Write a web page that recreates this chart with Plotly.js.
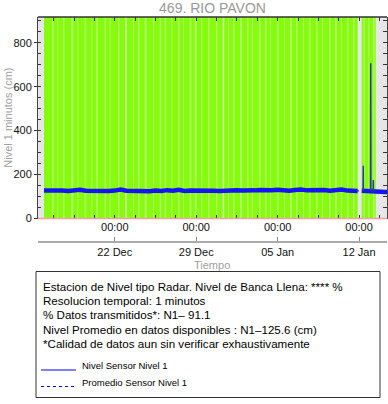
<!DOCTYPE html>
<html>
<head>
<meta charset="utf-8">
<script src="https://cdn.plot.ly/plotly-3.0.1.min.js"></script>
<style>html,body{margin:0;padding:0;background:#fff;}#chart{width:388px;height:404px;}</style>
</head>
<body>
<div id="chart"></div>
<script>
// ---------- data ----------
const stationTitle = '469. RIO PAVON';
const yRange = [0, 917];
const xRange = ['2023-12-15 09:36', '2024-01-14 09:36'];

const weekTicks = ['2023-12-22', '2023-12-29', '2024-01-05', '2024-01-12'];
const hourLabels = ['00:00', '00:00', '00:00', '00:00'];
const dateLabels = ['22 Dec', '29 Dec', '05 Jan', '12 Jan'];

// periods with transmitted data (green)
const coverageStart = ['2023-12-15 22:00', '2024-01-12 05:25'];
const coverageEnd   = ['2024-01-11 21:05', '2024-01-13 10:20'];

// short partial-data stripes inside the green periods
const stripeStart = ['2023-12-16 14:30','2023-12-17 01:24','2023-12-17 13:10','2023-12-18 06:20','2023-12-18 18:40',
  '2023-12-19 09:55','2023-12-19 23:36','2023-12-20 09:55','2023-12-21 03:10','2023-12-21 13:30','2023-12-22 06:36',
  '2023-12-22 21:40','2023-12-23 13:36','2023-12-23 23:55','2023-12-24 13:45','2023-12-25 06:50','2023-12-25 20:40',
  '2023-12-26 07:00','2023-12-26 20:40','2023-12-27 10:25','2023-12-27 20:45','2023-12-28 10:35','2023-12-28 20:55',
  '2023-12-29 10:30','2023-12-30 00:20','2023-12-30 16:50','2023-12-31 06:40','2023-12-31 17:40','2024-01-01 03:55',
  '2024-01-01 18:20','2024-01-02 08:50','2024-01-02 19:05','2024-01-03 09:30','2024-01-03 21:55','2024-01-04 08:15',
  '2024-01-04 22:40','2024-01-05 13:05','2024-01-06 01:30','2024-01-06 13:55','2024-01-07 04:20','2024-01-07 16:40',
  '2024-01-08 07:05','2024-01-08 19:30','2024-01-09 09:55','2024-01-09 22:15','2024-01-10 10:40','2024-01-10 23:05',
  '2024-01-11 11:25','2024-01-12 09:05','2024-01-12 19:00','2024-01-13 04:45'];
const stripeHours = [3,2,3,4,2, 3,2,3,3,2,3, 3,2,3,4,2,3, 3,2,3,2,3,4, 2,3,3,3,2,3, 4,3,2,3,3,2, 3,2,4,3,2,3, 3,2,3,4,2,3, 3,3,2,3];
const stripeTone  = [1,1,1,1,1, 1,1,1,1,1,1, 2,1,1,1,1,1, 1,1,1,1,1,1, 1,1,1,2,1,1, 1,1,1,1,1,1, 1,1,1,1,1,1, 1,1,1,1,1,1, 1,1,1,1];

// level series (cm)
const levelTime = ['2023-12-15 22:00','2023-12-16 12:00','2023-12-17 00:00','2023-12-17 12:00','2023-12-18 00:00',
  '2023-12-18 12:00','2023-12-19 00:00','2023-12-19 12:00','2023-12-20 00:00','2023-12-20 12:00','2023-12-21 00:00',
  '2023-12-21 12:00','2023-12-22 00:00','2023-12-22 12:00','2023-12-23 00:00','2023-12-23 12:00','2023-12-24 00:00',
  '2023-12-24 12:00','2023-12-25 00:00','2023-12-25 12:00','2023-12-26 00:00','2023-12-26 12:00','2023-12-27 00:00',
  '2023-12-27 12:00','2023-12-28 00:00','2023-12-28 12:00','2023-12-29 00:00','2023-12-29 12:00','2023-12-30 00:00',
  '2023-12-30 12:00','2023-12-31 00:00','2023-12-31 12:00','2024-01-01 00:00','2024-01-01 12:00','2024-01-02 00:00',
  '2024-01-02 12:00','2024-01-03 00:00','2024-01-03 12:00','2024-01-04 00:00','2024-01-04 12:00','2024-01-05 00:00',
  '2024-01-05 12:00','2024-01-06 00:00','2024-01-06 12:00','2024-01-07 00:00','2024-01-07 12:00','2024-01-08 00:00',
  '2024-01-08 12:00','2024-01-09 00:00','2024-01-09 12:00','2024-01-10 00:00','2024-01-10 12:00','2024-01-11 00:00',
  '2024-01-11 12:00','2024-01-11 21:00','2024-01-12 01:00','2024-01-12 05:30','2024-01-12 18:00','2024-01-13 06:00',
  '2024-01-13 18:00','2024-01-14 06:00','2024-01-14 12:00'];
const levelValue = [127,128,124,127,125, 126,131,126,125,129,126, 125,127,132,126,125,128, 126,124,127,125,129,126,
  131,125,127,128,126,130, 126,125,128,126,129,127, 125,128,130,127,129,131, 128,126,130,132,128,129,
  127,130,126,128,132,127, 126,125,null,126,125,128, 122,121,120];

// isolated spikes
const spikeTime  = ['2024-01-12 08:20','2024-01-12 08:40','2024-01-12 09:00',null,
                    '2024-01-12 23:40','2024-01-13 00:00','2024-01-13 00:20',null,
                    '2024-01-13 05:00','2024-01-13 05:20','2024-01-13 05:40'];
const spikeValue = [126,240,126,null, 126,707,126,null, 125,175,124];

const meanLevel = 125.6;

const infoLines = [
  'Estacion de Nivel tipo Radar. Nivel de Banca Llena: **** %',
  'Resolucion temporal: 1 minutos',
  '% Datos transmitidos*: N1\u2013 91.1',
  'Nivel Promedio en datos disponibles : N1\u2013125.6 (cm)',
  '*Calidad de datos aun sin verificar exhaustivamente'
];
const legendLabels = ['Nivel Sensor Nivel 1', 'Promedio Sensor Nivel 1'];

// ---------- figure ----------
const FONT = 'Liberation Sans, Arial, Helvetica, sans-serif';
const HOUR = 3600e3;
const ms = s => new Date(s.replace(' ', 'T') + 'Z').getTime();

const W = 388, H = 404, mL = 38, mR = 1, mT = 17, mB = 162;
const pw = W - mL - mR, ph = H - mT - mB;
const px = X => (X - mL) / pw;
const py = Y => (H - mB - Y) / ph;
const plotBottom = 218.5;

const green = '#86fb10';
const toneColor = {1: '#b0ff60', 2: '#d4ffa8'};

const traces = [
  { type: 'bar', x: coverageStart, y: coverageStart.map(() => yRange[1]),
    width: coverageStart.map((s, i) => ms(coverageEnd[i]) - ms(s)), offset: 0,
    marker: { color: green, line: { width: 0 } }, hoverinfo: 'skip', showlegend: false, xaxis: 'x', yaxis: 'y' },
  { type: 'bar', x: stripeStart, y: stripeStart.map(() => yRange[1]),
    width: stripeHours.map(h => h * HOUR), offset: 0,
    marker: { color: stripeTone.map(t => toneColor[t]), line: { width: 0 } }, hoverinfo: 'skip', showlegend: false, xaxis: 'x', yaxis: 'y' },
  { type: 'scatter', mode: 'lines', x: [levelTime[0], levelTime[levelTime.length - 1]], y: [meanLevel, meanLevel],
    line: { color: '#0000ff', width: 1, dash: 'dot' }, showlegend: false, xaxis: 'x', yaxis: 'y2' },
  { type: 'scatter', mode: 'lines', x: levelTime, y: levelValue, connectgaps: false,
    line: { color: '#1414f5', width: 4.5 }, showlegend: false, xaxis: 'x', yaxis: 'y2' },
  { type: 'scatter', mode: 'lines', x: spikeTime, y: spikeValue, connectgaps: false,
    line: { color: '#2c3a9c', width: 1.5 }, showlegend: false, xaxis: 'x', yaxis: 'y2' },
  { type: 'scatter', mode: 'lines', x: [], y: [], xaxis: 'x2', yaxis: 'y', showlegend: false, hoverinfo: 'skip' }
];

const domBottom = py(plotBottom);
const tickFont = { family: FONT, size: 11, color: '#111' };

const annotations = [
  { text: 'Nivel 1 minutos (cm)', xref: 'paper', yref: 'paper', x: px(8), y: py((mT + plotBottom) / 2),
    xanchor: 'center', yanchor: 'middle',
    textangle: -90, showarrow: false, font: { family: FONT, size: 11, color: '#a0a0a0' } },
  { text: 'Tiempo', xref: 'paper', yref: 'paper', x: px(212), y: py(265), xanchor: 'center', yanchor: 'middle',
    showarrow: false, font: { family: FONT, size: 11, color: '#a0a0a0' } }
];
const infoY = [286.7, 300.7, 314.7, 329, 343];
infoLines.forEach((t, i) => annotations.push({ text: t, xref: 'paper', yref: 'paper', x: px(41), y: py(infoY[i]),
  xanchor: 'left', yanchor: 'middle', showarrow: false, font: { family: FONT, size: 11.6, color: '#000' } }));
const legY = [365.7, 382];
legendLabels.forEach((t, i) => annotations.push({ text: t, xref: 'paper', yref: 'paper', x: px(80), y: py(legY[i]),
  xanchor: 'left', yanchor: 'middle', showarrow: false, font: { family: FONT, size: 9.5, color: '#000' } }));

const shapes = [
  { type: 'line', xref: 'paper', yref: 'paper', x0: 0, x1: 1, y0: domBottom, y1: domBottom,
    line: { color: '#f4a0a0', width: 1.6 }, layer: 'above' },
  { type: 'line', xref: 'paper', yref: 'paper', x0: 0, x1: 1, y0: 1, y1: 1,
    line: { color: '#333', width: 1.5 }, layer: 'above' },
  { type: 'rect', xref: 'paper', yref: 'paper', x0: px(36), x1: px(380), y0: py(271.5), y1: py(397.5),
    line: { color: '#333', width: 1 }, fillcolor: 'rgba(0,0,0,0)' },
  { type: 'line', xref: 'paper', yref: 'paper', x0: px(41), x1: px(76), y0: py(370), y1: py(370),
    line: { color: '#0000ff', width: 1 } },
  { type: 'line', xref: 'paper', yref: 'paper', x0: px(41), x1: px(76), y0: py(386.5), y1: py(386.5),
    line: { color: '#0000ff', width: 1, dash: 'dot' } }
];

const layout = {
  width: W, height: H,
  margin: { l: mL, r: mR, t: mT, b: mB, pad: 0 },
  paper_bgcolor: '#fff', plot_bgcolor: '#e6e6e6',
  font: { family: FONT, size: 11, color: '#111' },
  title: { text: stationTitle, font: { family: FONT, size: 14, color: '#999' },
           xref: 'paper', x: 0.5, xanchor: 'center', yref: 'container', y: 1 - 8.5 / H, yanchor: 'middle' },
  showlegend: false, barmode: 'overlay',
  xaxis: { type: 'date', range: xRange, tickmode: 'array', tickvals: weekTicks, ticktext: hourLabels,
           ticks: 'inside', ticklen: 4, tickcolor: '#333', tickfont: tickFont,
           minor: { dtick: 42 * HOUR, tick0: weekTicks[0], ticks: 'inside', ticklen: 4, tickcolor: '#333' },
           showline: false, mirror: 'ticks', showgrid: false, zeroline: false, fixedrange: true },
  xaxis2: { type: 'date', range: xRange, overlaying: 'x', anchor: 'free', position: 0, side: 'bottom',
            tickmode: 'array', tickvals: weekTicks, ticktext: dateLabels,
            ticks: 'inside', ticklen: 4, tickcolor: '#888', tickfont: tickFont,
            showline: true, linecolor: '#aaaaaa', linewidth: 2, showgrid: false, zeroline: false },
  yaxis: { domain: [domBottom, 1], range: yRange, dtick: 200, tick0: 0, ticks: 'outside', ticklen: 3,
           tickcolor: '#333', tickfont: tickFont,
           minor: { dtick: 50, ticks: 'inside', ticklen: 3, tickcolor: '#333' },
           showline: true, linecolor: '#444', linewidth: 1, showgrid: false, zeroline: false },
  yaxis2: { overlaying: 'y', side: 'right', anchor: 'x', range: yRange, dtick: 50, ticks: 'inside', ticklen: 4,
            tickcolor: '#333', showticklabels: false, showline: true, linecolor: '#444', linewidth: 1,
            showgrid: false, zeroline: false },
  annotations: annotations,
  shapes: shapes
};

Plotly.newPlot('chart', traces, layout, { displayModeBar: false, staticPlot: true });
</script>
</body>
</html>
